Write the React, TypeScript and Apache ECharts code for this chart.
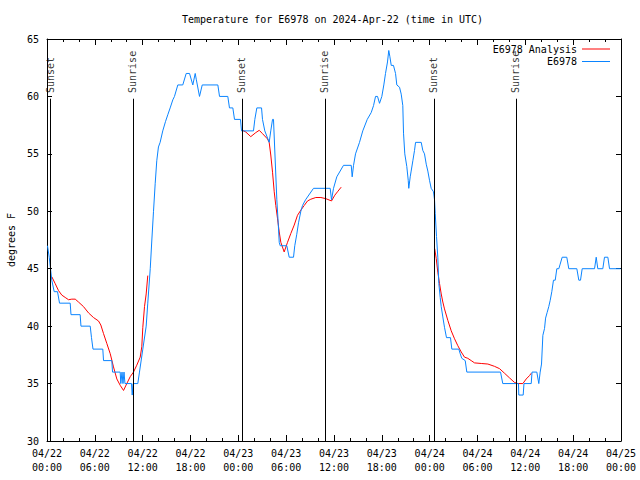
import React, { useEffect, useRef } from "react";
import * as echarts from "echarts";

const chartTitle = "Temperature for E6978 on 2024-Apr-22 (time in UTC)";
const yAxisName = "degrees F";

// x axis: hours since 2024-04-22 00:00 UTC
const xTickLabels = [
  "04/22\n00:00", "04/22\n06:00", "04/22\n12:00", "04/22\n18:00",
  "04/23\n00:00", "04/23\n06:00", "04/23\n12:00", "04/23\n18:00",
  "04/24\n00:00", "04/24\n06:00", "04/24\n12:00", "04/24\n18:00",
  "04/25\n00:00",
];

// Observed temperature (E6978)
const obsHours = [
  0.06, 0.28, 0.44, 0.6, 0.9, 1.32, 1.57, 2.91, 3.01, 4.16, 4.26, 5.42, 5.58, 5.77, 7.0, 7.09,
  8.13, 8.22, 9.18, 9.26, 9.41, 9.53, 9.66, 9.78, 10.6, 10.69, 10.79, 11.39, 11.6, 12.02, 12.44,
  12.64, 12.95, 13.15, 13.36, 13.57, 13.77, 13.98, 14.19, 14.52, 14.86, 15.15, 15.45, 15.78,
  15.99, 16.41, 17.03, 17.46, 17.88, 18.29, 18.59, 18.72, 19.13, 19.47, 21.43, 21.64, 22.68,
  22.89, 23.31, 23.52, 24.27, 24.4, 25.9, 26.07, 26.32, 26.91, 27.03, 27.32, 27.87, 28.07,
  28.29, 28.41, 28.83, 29.0, 29.13, 29.25, 30.08, 30.38, 30.92, 31.08, 31.33, 31.55, 31.84,
  32.05, 32.43, 33.43, 35.52, 35.69, 35.94, 36.35, 37.19, 38.16, 38.28, 38.45, 38.7, 39.2,
  39.61, 40.17, 40.67, 40.96, 41.21, 41.46, 41.71, 42.0, 42.25, 42.46, 42.71, 42.87, 43.0,
  43.18, 43.46, 43.72, 43.88, 44.22, 44.43, 44.63, 44.72, 44.88, 45.13, 45.31, 45.38, 45.56,
  45.68, 45.89, 46.1, 46.23, 46.94, 47.14, 47.35, 47.57, 47.77, 47.98, 48.19, 48.48, 48.61,
  48.7, 48.86, 49.02, 49.15, 49.32, 49.45, 49.65, 49.86, 50.11, 50.61, 50.78, 51.66, 51.83,
  52.03, 52.46, 52.66, 56.89, 57.17, 59.14, 59.18, 59.73, 59.83, 60.74, 60.84, 61.44, 61.69,
  61.86, 62.03, 62.2, 62.41, 62.54, 62.74, 62.94, 63.12, 63.32, 63.53, 63.75, 63.95, 64.2,
  64.37, 64.62, 65.2, 65.45, 66.46, 66.71, 66.92, 67.13, 68.68, 68.89, 69.09, 69.72, 69.93,
  70.35, 70.56, 71.94,
];
const obsTemps = [
  47, 46, 45, 44, 43, 43, 42, 42, 41, 41, 40, 40, 39, 38, 38, 37,
  37, 36, 36, 35, 36, 35, 36, 35, 35, 34, 35, 35, 36, 38, 40,
  42, 45, 47.5, 50, 52.4, 54.4, 55.6, 56, 57, 57.8, 58.4, 59, 59.7,
  60, 61, 61, 62, 62, 61, 62, 61.5, 60, 61, 61, 60, 60,
  59, 59, 58, 58, 57, 57, 58, 59, 59, 58, 57, 56, 57,
  58, 58, 51, 49, 47.3, 47, 47, 46, 46, 47, 48, 49, 50,
  50.5, 51, 52, 52, 51, 52, 53, 54, 54, 53, 54, 55, 56,
  57, 58, 58.6, 59.2, 60, 60, 59.4, 60, 61, 62, 63, 64, 63.5,
  62.7, 62.7, 62, 61, 60.8, 60.2, 59.2, 56.8, 55, 53.9, 52.7, 52, 53,
  53.5, 54.4, 55.3, 56, 56, 55.3, 55, 54.1, 53.5, 52.7, 52, 51.7, 51,
  49.8, 47.8, 46, 43.7, 42.5, 41.7, 40.8, 39.9, 39, 39, 38, 38, 37.6,
  37.2, 37, 36, 36, 35, 35, 34, 34, 35, 35, 36, 36, 35,
  36, 36.7, 39.2, 39.8, 40.7, 41.2, 41.7, 42.25, 43, 44, 44, 45, 45,
  45.4, 46, 46, 45, 45, 44, 44, 45, 45, 46, 45, 45, 46,
  46, 45, 45,
];

// Analysis (E6978 Analysis); null marks a gap between nightly runs
const anaHours = [
  0.6, 1.03, 1.44, 1.86, 2.28, 2.7, 3.11, 3.54, 3.95, 4.58, 5.21, 5.83, 6.46, 6.75, 7.09, 7.5,
  7.93, 8.34, 8.76, 9.18, 9.6, 10.01, 10.44, 10.85, 11.26, 11.69, 11.89, 12.02, 12.23, 12.44,
  12.64, 18,
  24.52, 24.94, 25.56, 26.19, 26.62, 27.03, 27.66, 27.87, 28.07, 28.29, 28.5, 28.7, 28.91,
  29.13, 29.33, 29.75, 30.17, 30.58, 31.01, 31.42, 31.84, 32.26, 32.68, 33.09, 33.72, 34.35,
  34.97, 35.69, 36.1, 36.44, 36.9, 42,
  48.63, 48.82, 49.02, 49.24, 49.45, 49.65, 49.86, 50.28, 50.7, 51.12, 51.53, 51.96, 52.37,
  52.78, 53.21, 53.63, 54.47, 55.3, 56.13, 56.76, 57.39, 58.01, 58.64, 59.06, 59.69, 60.11,
  60.53, 60.74,
];
const anaTemps = [
  44.3, 43.7, 43.1, 42.7, 42.5, 42.3, 42.35, 42.35, 42.1, 41.7, 41.15, 40.75, 40.45, 40.1, 39.35, 38.5,
  37.6, 36.45, 35.4, 34.85, 34.4, 35.0, 35.6, 36.0, 36.6, 37.3, 38.2, 39.9, 41.7, 42.8,
  44.4, null,
  57.05, 56.9, 56.5, 56.85, 57.05, 56.76, 56.3, 56.0, 54.9, 53.4, 51.7, 50.5, 49.4,
  48.2, 47.3, 46.46, 47.3, 48.06, 48.8, 49.65, 50.1, 50.5, 50.9, 51.05, 51.2, 51.2,
  51.1, 50.9, 51.4, 51.7, 52.1, null,
  46.75, 45.9, 44.7, 43.7, 42.8, 42.1, 41.5, 40.5, 39.6, 38.9, 38.3, 37.75, 37.3,
  37.2, 37.0, 36.8, 36.75, 36.7, 36.5, 36.3, 35.9, 35.5, 35.1, 35.0, 35.0, 35.4,
  35.7, 35.9,
];

// Sun events (hours since 04/22 00:00 UTC)
const eventNames = ["Sunset", "Sunrise", "Sunset", "Sunrise", "Sunset", "Sunrise"];
const eventHours = [0.4, 10.77, 24.43, 34.85, 48.52, 58.8];
const eventLineTop = 59.8;
const eventLabelAt = 60.3;

const FONT = "DejaVu Sans Mono";

export default function App() {
  const ref = useRef<HTMLDivElement>(null);

  useEffect(() => {
    if (!ref.current) return;
    const chart = echarts.init(ref.current, undefined, { renderer: "svg" });

    const obsData = obsHours.map((h, i) => [h, obsTemps[i]]);
    const anaData = anaHours.map((h, i) => [h, anaTemps[i] === null ? "-" : anaTemps[i]]);
    const eventData = eventHours.map((h, i) => [h, eventLabelAt, eventNames[i]]);

    const axisCommon = {
      axisLine: { show: true, onZero: false, lineStyle: { color: "#000", width: 1 } },
      splitLine: { show: false },
    };

    const legendCommon = {
      orient: "vertical",
      align: "right",
      right: 30,
      padding: 0,
      icon: "rect",
      itemWidth: 28,
      itemHeight: 1,
      selectedMode: false,
      textStyle: { fontFamily: FONT, fontSize: 10, color: "#000" },
    };

    const option: any = {
      animation: false,
      backgroundColor: "#fff",
      textStyle: { fontFamily: FONT, fontSize: 10, color: "#000" },
      title: {
        text: chartTitle,
        left: 182,
        top: 14,
        padding: 0,
        textStyle: { fontFamily: FONT, fontSize: 10, fontWeight: "normal", color: "#000" },
      },
      legend: [
        { ...legendCommon, data: ["E6978 Analysis"], top: 44 },
        { ...legendCommon, data: ["E6978"], top: 56.5 },
      ],
      grid: {
        left: 47,
        right: 19,
        top: 39,
        bottom: 39,
        containLabel: false,
        outerBoundsMode: "none",
      },
      xAxis: [
        {
          type: "value",
          position: "bottom",
          min: 0,
          max: 72,
          interval: 6,
          ...axisCommon,
          axisTick: { show: true, inside: true, length: 6, lineStyle: { color: "#000" } },
          minorTick: { show: true, splitNumber: 3, length: 3, lineStyle: { color: "#000" } },
          axisLabel: {
            formatter: (v: number) => xTickLabels[Math.round(v / 6)] ?? "",
            margin: 5,
            lineHeight: 14,
            color: "#000",
            fontFamily: FONT,
            fontSize: 10,
          },
        },
        {
          type: "value",
          position: "top",
          min: 0,
          max: 72,
          interval: 6,
          ...axisCommon,
          axisTick: { show: true, inside: true, length: 6, lineStyle: { color: "#000" } },
          minorTick: { show: true, splitNumber: 3, length: 3, lineStyle: { color: "#000" } },
          axisLabel: { show: false },
        },
      ],
      yAxis: [
        {
          type: "value",
          position: "left",
          min: 30,
          max: 65,
          interval: 5,
          name: yAxisName,
          nameLocation: "middle",
          nameGap: 31,
          nameTextStyle: { fontFamily: FONT, fontSize: 10, color: "#000" },
          ...axisCommon,
          axisTick: { show: true, inside: true, length: 5, lineStyle: { color: "#000" } },
          axisLabel: { margin: 8, color: "#000", fontFamily: FONT, fontSize: 10 },
        },
        {
          type: "value",
          position: "right",
          min: 30,
          max: 65,
          interval: 5,
          ...axisCommon,
          axisTick: { show: true, inside: true, length: 5, lineStyle: { color: "#000" } },
          axisLabel: { show: false },
        },
      ],
      series: [
        {
          name: "events",
          type: "scatter",
          xAxisIndex: 0,
          yAxisIndex: 0,
          data: eventData,
          symbolSize: 1,
          itemStyle: { color: "rgba(0,0,0,0)" },
          silent: true,
          z: 1,
          label: {
            show: true,
            formatter: (p: any) => p.value[2],
            position: "inside",
            align: "left",
            verticalAlign: "middle",
            rotate: 90,
            color: "#000",
            fontFamily: FONT,
            fontSize: 10,
          },
          markLine: {
            silent: true,
            symbol: ["none", "none"],
            animation: false,
            label: { show: false },
            lineStyle: { color: "#000", width: 1, type: "solid" },
            data: eventHours.map((h) => [{ coord: [h, 30] }, { coord: [h, eventLineTop] }]),
          },
        },
        {
          name: "E6978 Analysis",
          type: "line",
          xAxisIndex: 0,
          yAxisIndex: 0,
          data: anaData,
          symbol: "none",
          connectNulls: false,
          color: "#ff0000",
          lineStyle: { color: "#ff0000", width: 1 },
          z: 2,
        },
        {
          name: "E6978",
          type: "line",
          xAxisIndex: 0,
          yAxisIndex: 0,
          data: obsData,
          symbol: "none",
          color: "#0a84ff",
          lineStyle: { color: "#0a84ff", width: 1 },
          z: 3,
        },
      ],
    };

    chart.setOption(option);
    return () => chart.dispose();
  }, []);

  return <div ref={ref} style={{ width: 640, height: 480, position: "absolute", left: 0, top: 0 }} />;
}
